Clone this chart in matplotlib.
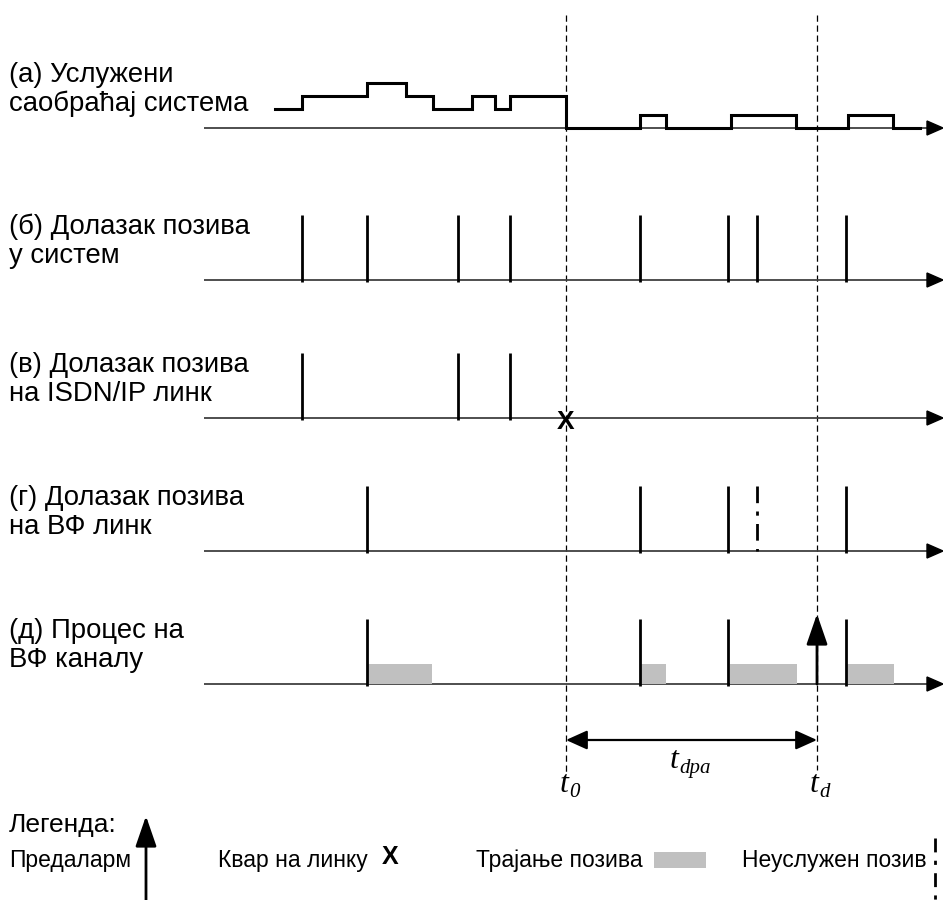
import matplotlib
matplotlib.use("Agg")
import matplotlib.pyplot as plt
from matplotlib.patches import Polygon, Rectangle

plt.rcParams['font.family'] = ['Liberation Sans', 'DejaVu Sans']

# ---------------- data (time axis in drawing units) ----------------
row_labels = [
    ["(а) Услужени", "саобраћај система"],
    ["(б) Долазак позива", "у систем"],
    ["(в) Долазак позива", "на ISDN/IP линк"],
    ["(г) Долазак позива", "на ВФ линк"],
    ["(д) Процес на", "ВФ каналу"],
]
# served traffic (a): step edges and levels between edges
traffic_edges = [275, 302, 367, 406, 433, 472, 495, 510, 566, 640, 666, 731, 796, 848, 893, 920]
traffic_levels = [1.5, 2.5, 3.5, 2.5, 1.5, 2.5, 1.5, 2.5, 0, 1, 0, 1, 0, 1, 0]
arrivals_system = [302, 367, 458, 510, 640, 728, 757, 846]
arrivals_isdn = [302, 458, 510]
arrivals_hf = [367, 640, 728, 846]
unserved_hf = [757]
process_hf = [367, 640, 728, 846]
call_start = [368, 641, 730, 847]
call_duration = [64, 25, 67, 47]
t0 = 566
td = 817
time_labels = [("t", "0"), ("t", "d"), ("t", "dpa")]
legend_title = "Легенда:"
legend_items = ["Предаларм", "Квар на линку", "Трајање позива", "Неуслужен позив"]

# ---------------- layout ----------------
W, H = 943, 900
fig = plt.figure(figsize=(W / 100, H / 100), dpi=100)
ax = fig.add_axes([0, 0, 1, 1])
ax.set_xlim(0, W)
ax.set_ylim(H, 0)
ax.axis('off')

base_y = [128, 280, 418, 551, 684]
axis_x0 = 204
axis_x1 = 943
tick_h = 65
unit = 13.0
label_fs = 19.8

def time_axis(y):
    ax.plot([axis_x0, axis_x1 - 14], [y, y], color='#404040', lw=1.3, solid_capstyle='butt', zorder=2)
    ax.add_patch(Polygon([[axis_x1 - 16, y - 7], [axis_x1, y], [axis_x1 - 16, y + 7]],
                         closed=True, color='black', zorder=3))

for i, y in enumerate(base_y):
    time_axis(y)
    ax.text(9, y - 53, row_labels[i][0], fontsize=label_fs, va='center', ha='left')
    ax.text(9, y - 24, row_labels[i][1], fontsize=label_fs, va='center', ha='left')

# (a) step trace
xs, ys = [], []
for k, lv in enumerate(traffic_levels):
    xs += [traffic_edges[k], traffic_edges[k + 1]]
    ys += [base_y[0] - lv * unit, base_y[0] - lv * unit]
ax.plot(xs, ys, color='black', lw=2.2, solid_joinstyle='miter', zorder=4)

def ticks(xlist, y):
    ax.vlines(xlist, y - tick_h, y + 2, colors='black', lw=2.0, zorder=4)

ticks(arrivals_system, base_y[1])
ticks(arrivals_isdn, base_y[2])
ticks(arrivals_hf, base_y[3])
ax.vlines(unserved_hf, base_y[3] - tick_h, base_y[3], colors='black', lw=2.0,
          linestyles=(0, (6, 3, 1.5, 3)), zorder=4)
ticks(process_hf, base_y[4])

# link failure X
ax.text(t0, base_y[2] + 4, "X", fontsize=19, fontweight='bold', ha='center', va='center', zorder=5)

# call durations
for s, d in zip(call_start, call_duration):
    ax.add_patch(Rectangle((s, base_y[4] - 20), d, 20, facecolor='#c0c0c0', edgecolor='none', zorder=3))

# prealarm arrow at td
arrow_kw = dict(arrowstyle='-|>,head_length=1.1,head_width=0.38', color='black', lw=2.0,
                mutation_scale=17, shrinkA=0, shrinkB=0)
ax.annotate('', xy=(td, base_y[4] - tick_h - 5), xytext=(td, base_y[4]), arrowprops=arrow_kw, zorder=5)

# dashed time markers
ax.plot([t0, t0], [15, 775], color='black', lw=0.9, ls=(0, (5, 3)), zorder=1)
ax.plot([td, td], [15, 770], color='black', lw=0.9, ls=(0, (5, 3)), zorder=1)

# t_dpa double arrow
ax.annotate('', xy=(t0, 740), xytext=(td, 740),
            arrowprops=dict(arrowstyle='<|-|>,head_length=1.0,head_width=0.45', color='black', lw=1.6,
                            mutation_scale=13, shrinkA=0, shrinkB=0))

def tlabel(x, y, main, sub):
    serif = dict(family='Liberation Serif', style='italic')
    ax.text(x, y, main, fontsize=23, ha='right', va='baseline', **serif)
    ax.text(x + 1, y + 5, sub, fontsize=15, ha='left', va='baseline', **serif)

tlabel(568, 792, *time_labels[0])
tlabel(818, 792, *time_labels[1])
tlabel(678, 768, *time_labels[2])

# legend
ax.text(9, 825, legend_title, fontsize=19, ha='left', va='center')
ly = 860
leg_fs = 16.5
ax.text(9, ly, legend_items[0], fontsize=leg_fs, ha='left', va='center')
ax.annotate('', xy=(146, 816), xytext=(146, 900), arrowprops=arrow_kw)
ax.text(218, ly, legend_items[1], fontsize=leg_fs, ha='left', va='center')
ax.text(390, ly - 3, "X", fontsize=18, fontweight='bold', ha='center', va='center')
ax.text(476, ly, legend_items[2], fontsize=leg_fs, ha='left', va='center')
ax.add_patch(Rectangle((654, ly - 8), 52, 16, facecolor='#c0c0c0', edgecolor='none'))
ax.text(927, ly, legend_items[3], fontsize=leg_fs, ha='right', va='center')
ax.plot([935, 935], [838, 900], color='black', lw=2.0, ls=(0, (5, 3, 1.5, 3)))

fig.savefig("out.png", dpi=100)
